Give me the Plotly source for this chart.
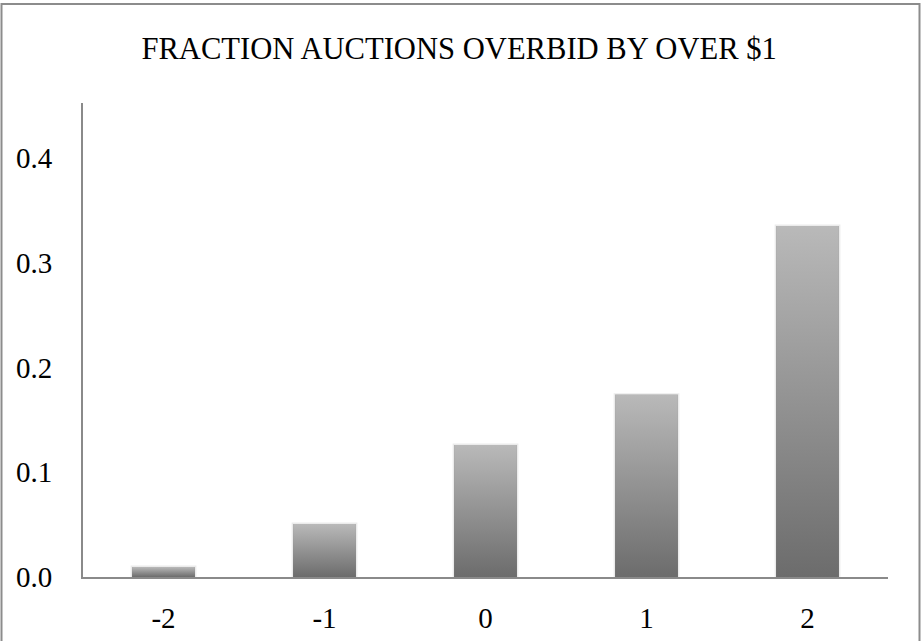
import plotly.graph_objects as go

# Data
categories = ["-2", "-1", "0", "1", "2"]
fractions = [0.0095, 0.0505, 0.126, 0.174, 0.335]
y_ticks = [0.0, 0.1, 0.2, 0.3, 0.4]

# Layout constants
W, H = 922, 641
ML, MR, MT, MB = 83, 34, 103, 64
BAR_W = 0.39
AXIS_COLOR = "#8a8a8a"
FONT = "Liberation Serif, Times New Roman, serif"

xpos = list(range(len(categories)))

fig = go.Figure()

# Base bars (soft halo from a faint outline)
fig.add_trace(go.Bar(
    x=xpos, y=fractions, width=BAR_W,
    marker=dict(color="#8c8c8c", line=dict(color="rgba(0,0,0,0.08)", width=3)),
    hoverinfo="skip", showlegend=False,
))

# Vertical gradient fill over each bar, light at the top and dark at the base
for xi, v in zip(xpos, fractions):
    x0, x1 = xi - BAR_W / 2, xi + BAR_W / 2
    fig.add_trace(go.Scatter(
        x=[x0, x0, x1, x1, x0], y=[0, v, v, 0, 0],
        mode="lines", line=dict(width=0, color="rgba(0,0,0,0)"),
        fill="toself",
        fillgradient=dict(type="vertical",
                          colorscale=[[0, "#6c6c6c"], [1, "#b9b9b9"]]),
        hoverinfo="skip", showlegend=False,
    ))

plot_w = W - ML - MR
plot_h = H - MT - MB

def px_to_paper_x(px):
    return (px - ML) / plot_w

def px_to_paper_y(py):
    return (H - MB - py) / plot_h

# Outer chart frame
fig.add_shape(type="rect", xref="paper", yref="paper",
              x0=px_to_paper_x(1.5), x1=px_to_paper_x(919.5),
              y0=px_to_paper_y(642), y1=px_to_paper_y(4.0),
              line=dict(color="#8c8c8c", width=2), layer="below")

fig.update_layout(
    width=W, height=H,
    margin=dict(l=ML, r=MR, t=MT, b=MB, autoexpand=False),
    paper_bgcolor="white", plot_bgcolor="white",
    font=dict(family=FONT, color="black"),
    title=dict(text="FRACTION AUCTIONS OVERBID BY OVER $1",
               font=dict(family=FONT, size=30.6, color="black"),
               x=0.498, xref="container", xanchor="center",
               y=1 - 48 / H, yref="container", yanchor="middle"),
    bargap=1 - BAR_W,
    showlegend=False,
)

fig.update_xaxes(
    range=[-0.5, len(categories) - 0.5],
    tickvals=xpos, ticktext=categories,
    showgrid=False, zeroline=False,
    showline=True, linecolor=AXIS_COLOR, linewidth=2,
    ticks="", ticklabelstandoff=14, automargin=False,
    tickfont=dict(family=FONT, size=29, color="black"),
    fixedrange=True,
)
fig.update_yaxes(
    range=[0, 0.4525],
    tickvals=y_ticks, tickformat=".1f",
    showgrid=False, zeroline=False,
    showline=True, linecolor=AXIS_COLOR, linewidth=2,
    ticks="", ticklabelstandoff=23, automargin=False,
    tickfont=dict(family=FONT, size=29, color="black"),
    fixedrange=True,
)

fig.write_html("out.html")
